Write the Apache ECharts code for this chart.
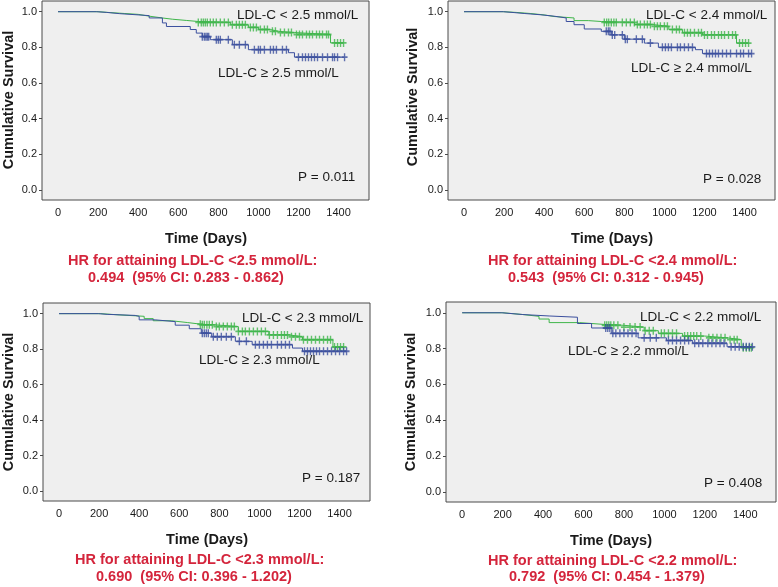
<!DOCTYPE html>
<html>
<head>
<meta charset="utf-8">
<script src="https://cdn.jsdelivr.net/npm/echarts@6/dist/echarts.min.js"></script>
<style>
html,body{margin:0;padding:0;background:#fff;}
#chart{width:778px;height:587px;}
</style>
</head>
<body>
<div id="chart"></div>
<script>
// ---------- DATA ----------
const xTickValues = [0, 200, 400, 600, 800, 1000, 1200, 1400];
const yTickValues = [0, 0.2, 0.4, 0.6, 0.8, 1.0];

// Panel 1: cut-off 2.5 mmol/L
const p1LowTimes  = [0, 200, 260, 330, 400, 455, 520, 570, 640, 700, 860, 950, 1000, 1060, 1100, 1180, 1360];
const p1LowSurv   = [1, 0.995, 0.99, 0.985, 0.975, 0.965, 0.958, 0.951, 0.945, 0.94, 0.927, 0.912, 0.9, 0.89, 0.883, 0.872, 0.825];
const p1LowCens   = [700,715,725,735,745,760,775,790,810,830,850,870,890,905,920,935,960,975,990,1010,1030,1045,1070,1085,1110,1130,1150,1165,1190,1205,1220,1240,1255,1270,1290,1305,1320,1340,1350,1380,1395,1410,1425];
const p1HighTimes = [0, 192, 243, 308, 455, 521, 541, 660, 690, 720, 760, 870, 950, 1150, 1180];
const p1HighSurv  = [1, 0.996, 0.989, 0.978, 0.965, 0.937, 0.917, 0.9, 0.88, 0.86, 0.843, 0.815, 0.787, 0.77, 0.745];
const p1HighCens  = [720,730,738,745,752,790,800,810,850,880,905,935,980,1000,1010,1030,1060,1075,1090,1120,1140,1200,1220,1235,1250,1265,1280,1295,1320,1345,1370,1380,1395,1430];

// Panel 2: cut-off 2.4 mmol/L
const p2LowTimes  = [0, 196, 260, 330, 400, 449, 549, 620, 685, 851, 940, 1022, 1090, 1190, 1360];
const p2LowSurv   = [1, 0.996, 0.99, 0.982, 0.973, 0.965, 0.95, 0.945, 0.94, 0.928, 0.918, 0.9, 0.882, 0.87, 0.824];
const p2LowCens   = [700,712,722,735,748,760,790,810,830,850,865,880,900,915,930,950,965,980,1000,1015,1040,1060,1075,1100,1115,1130,1150,1170,1185,1200,1215,1235,1250,1270,1285,1300,1320,1340,1355,1375,1390,1405,1420];
const p2HighTimes = [0, 196, 250, 300, 380, 449, 510, 549, 600, 685, 735, 800, 900, 970, 1155, 1190];
const p2HighSurv  = [1, 0.995, 0.99, 0.983, 0.975, 0.965, 0.945, 0.927, 0.903, 0.89, 0.87, 0.846, 0.824, 0.8, 0.787, 0.765];
const p2HighCens  = [710,720,728,740,752,790,805,815,860,890,930,990,1005,1020,1035,1065,1080,1100,1120,1140,1210,1225,1240,1255,1270,1290,1310,1330,1360,1380,1395,1420,1435];

// Panel 3: cut-off 2.3 mmol/L
const p3LowTimes  = [0, 207, 300, 425, 470, 560, 640, 712, 778, 895, 1047, 1148, 1215, 1367];
const p3LowSurv   = [1, 0.993, 0.985, 0.972, 0.96, 0.95, 0.94, 0.937, 0.927, 0.9, 0.88, 0.87, 0.853, 0.812];
const p3LowCens   = [705,715,725,738,750,765,785,800,820,840,860,875,895,915,930,950,970,990,1010,1030,1050,1070,1090,1110,1125,1140,1160,1180,1200,1220,1240,1260,1280,1300,1320,1340,1355,1375,1390,1405,1420];
const p3HighTimes = [0, 197, 240, 380, 400, 480, 580, 650, 710, 762, 880, 964, 1165, 1215];
const p3HighSurv  = [1, 0.996, 0.99, 0.985, 0.965, 0.955, 0.935, 0.915, 0.89, 0.87, 0.844, 0.825, 0.806, 0.788];
const p3HighCens  = [715,725,735,745,770,790,810,835,860,900,935,980,1000,1020,1040,1060,1090,1110,1130,1150,1225,1240,1255,1270,1285,1300,1320,1340,1360,1380,1400,1420,1435];

// Panel 4: cut-off 2.2 mmol/L
const p4LowTimes  = [0, 200, 300, 380, 430, 580, 700, 800, 900, 970, 1090, 1200, 1310, 1380];
const p4LowSurv   = [1, 0.99, 0.98, 0.965, 0.945, 0.935, 0.93, 0.92, 0.9, 0.885, 0.87, 0.86, 0.85, 0.805];
const p4LowCens   = [705,715,725,735,750,770,800,830,855,880,905,925,945,985,1000,1020,1040,1060,1100,1115,1130,1145,1160,1180,1220,1240,1260,1280,1300,1325,1345,1360,1390,1405,1420,1430];
const p4HighTimes = [0, 196, 300, 430, 570, 640, 740, 870, 1010, 1140, 1310];
const p4HighSurv  = [1, 0.99, 0.982, 0.975, 0.94, 0.915, 0.885, 0.86, 0.845, 0.83, 0.81];
const p4HighCens  = [710,720,730,745,760,780,800,820,840,860,900,930,960,1020,1040,1060,1080,1100,1120,1150,1170,1190,1215,1235,1255,1275,1295,1330,1350,1370,1390,1405,1420,1435];

const lowLabels  = ['LDL-C < 2.5 mmol/L', 'LDL-C < 2.4 mmol/L', 'LDL-C < 2.3 mmol/L', 'LDL-C < 2.2 mmol/L'];
const highLabels = ['LDL-C \u2265 2.5 mmol/L', 'LDL-C \u2265 2.4 mmol/L', 'LDL-C \u2265 2.3 mmol/L', 'LDL-C \u2265 2.2 mmol/L'];
const pValues    = ['P = 0.011', 'P = 0.028', 'P = 0.187', 'P = 0.408'];
const hrLine1    = ['HR for attaining LDL-C <2.5 mmol/L:', 'HR for attaining LDL-C <2.4 mmol/L:', 'HR for attaining LDL-C <2.3 mmol/L:', 'HR for attaining LDL-C <2.2 mmol/L:'];
const hrLine2    = ['0.494  (95% CI: 0.283 - 0.862)', '0.543  (95% CI: 0.312 - 0.945)', '0.690  (95% CI: 0.396 - 1.202)', '0.792  (95% CI: 0.454 - 1.379)'];
const xTitle = 'Time (Days)';
const yTitle = 'Cumulative Survival';

// ---------- LAYOUT ----------
const GREEN = '#3fb54b';
const BLUE = '#3b4f9e';
const RED = '#d4253c';
const TXT = '#1a1a1a';

const layout = [
  {grid:{left:42,top:1,width:327,height:199}, low:[237,15], high:[218,73], p:[298,177], time:[206,239], hr1:[68,261], hr2:[88,278], yt:[9,100]},
  {grid:{left:448,top:1,width:327,height:199}, low:[646,15], high:[631,68], p:[703,179], time:[612,239], hr1:[488,261], hr2:[508,278], yt:[413,97]},
  {grid:{left:43,top:303,width:327,height:198}, low:[242,318], high:[199,360], p:[302,478], time:[207,540], hr1:[75,560], hr2:[96,577], yt:[9,402]},
  {grid:{left:446,top:302,width:330,height:200}, low:[640,317], high:[568,351], p:[704,483], time:[611,541], hr1:[488,561], hr2:[509,577], yt:[411,402]}
];

const curves = [
  {lt:p1LowTimes, ls:p1LowSurv, lc:p1LowCens, ht:p1HighTimes, hs:p1HighSurv, hc:p1HighCens},
  {lt:p2LowTimes, ls:p2LowSurv, lc:p2LowCens, ht:p2HighTimes, hs:p2HighSurv, hc:p2HighCens},
  {lt:p3LowTimes, ls:p3LowSurv, lc:p3LowCens, ht:p3HighTimes, hs:p3HighSurv, hc:p3HighCens},
  {lt:p4LowTimes, ls:p4LowSurv, lc:p4LowCens, ht:p4HighTimes, hs:p4HighSurv, hc:p4HighCens}
];

function survAt(times, surv, t) {
  let s = surv[0];
  for (let i = 0; i < times.length; i++) { if (times[i] <= t) s = surv[i]; }
  return s;
}
function stepData(times, surv, cens) {
  const d = times.map((t, i) => [t, surv[i]]);
  const last = Math.max(times[times.length - 1], cens[cens.length - 1]);
  d.push([last, surv[surv.length - 1]]);
  return d;
}
function censData(times, surv, cens) {
  return cens.map(t => [t, survAt(times, surv, t)]);
}

const PLUS = 'path://M5,0L5,10M0,5L10,5';
const grids = [], xAxes = [], yAxes = [], series = [], graphics = [];

layout.forEach((L, i) => {
  grids.push(Object.assign({show:true, backgroundColor:'#efefef', borderColor:'#4a4a4a', borderWidth:1, containLabel:false}, L.grid));
  xAxes.push({
    type:'value', gridIndex:i, min:-80, max:1552,
    axisLine:{show:false, onZero:false}, axisTick:{show:false}, splitLine:{show:false},
    axisLabel:{customValues:xTickValues, color:TXT, fontSize:11, fontFamily:'Liberation Sans, Arial', margin:7, formatter:v => String(v)}
  });
  yAxes.push({
    type:'value', gridIndex:i, min:-0.056, max:1.06,
    axisLine:{show:false, onZero:false}, splitLine:{show:false},
    axisTick:{show:true, customValues:yTickValues, length:3, lineStyle:{color:'#4a4a4a'}},
    axisLabel:{customValues:yTickValues, color:TXT, fontSize:11, fontFamily:'Liberation Sans, Arial', margin:5, formatter:v => v.toFixed(1)}
  });
  const c = curves[i];
  series.push({type:'line', xAxisIndex:i, yAxisIndex:i, step:'end', showSymbol:false, silent:true,
    lineStyle:{color:GREEN, width:1}, data:stepData(c.lt, c.ls, c.lc), z:3});
  series.push({type:'line', xAxisIndex:i, yAxisIndex:i, step:'end', showSymbol:false, silent:true,
    lineStyle:{color:BLUE, width:1}, data:stepData(c.ht, c.hs, c.hc), z:3});
  series.push({type:'scatter', xAxisIndex:i, yAxisIndex:i, symbol:PLUS, symbolSize:[6,8], silent:true,
    itemStyle:{color:'none', borderColor:GREEN, borderWidth:1.6}, data:censData(c.lt, c.ls, c.lc), z:4});
  series.push({type:'scatter', xAxisIndex:i, yAxisIndex:i, symbol:PLUS, symbolSize:[6,8], silent:true,
    itemStyle:{color:'none', borderColor:BLUE, borderWidth:1.6}, data:censData(c.ht, c.hs, c.hc), z:4});

  const reg = '13.5px "Liberation Sans", Arial, sans-serif';
  const bold = 'bold 14.5px "Liberation Sans", Arial, sans-serif';
  graphics.push({type:'text', x:L.low[0], y:L.low[1], z:10, style:{text:lowLabels[i], fill:TXT, font:reg, align:'left', verticalAlign:'middle'}});
  graphics.push({type:'text', x:L.high[0], y:L.high[1], z:10, style:{text:highLabels[i], fill:TXT, font:reg, align:'left', verticalAlign:'middle'}});
  graphics.push({type:'text', x:L.p[0], y:L.p[1], z:10, style:{text:pValues[i], fill:TXT, font:reg, align:'left', verticalAlign:'middle'}});
  graphics.push({type:'text', x:L.time[0], y:L.time[1], z:10, style:{text:xTitle, fill:TXT, font:bold, align:'center', verticalAlign:'middle'}});
  graphics.push({type:'text', x:L.hr1[0], y:L.hr1[1], z:10, style:{text:hrLine1[i], fill:RED, font:bold, align:'left', verticalAlign:'middle'}});
  graphics.push({type:'text', x:L.hr2[0], y:L.hr2[1], z:10, style:{text:hrLine2[i], fill:RED, font:bold, align:'left', verticalAlign:'middle'}});
  graphics.push({type:'text', x:L.yt[0], y:L.yt[1], rotation:Math.PI/2, z:10, style:{text:yTitle, fill:TXT, font:bold, align:'center', verticalAlign:'middle'}});
});

const chart = echarts.init(document.getElementById('chart'), null, {renderer:'canvas'});
chart.setOption({
  animation:false,
  backgroundColor:'#ffffff',
  grid:grids, xAxis:xAxes, yAxis:yAxes, series:series, graphic:graphics
});
</script>
</body>
</html>
